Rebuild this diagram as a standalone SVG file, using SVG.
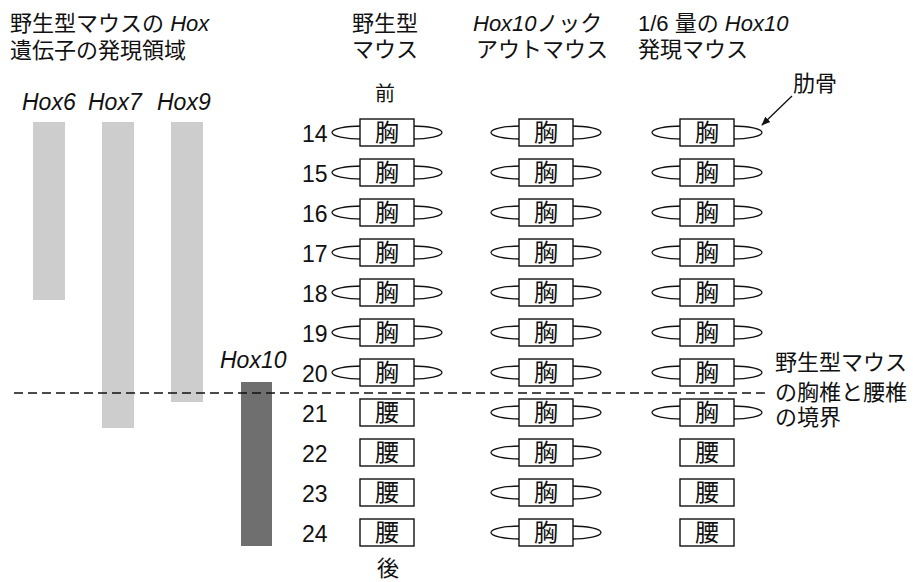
<svg xmlns="http://www.w3.org/2000/svg" width="923" height="582" viewBox="0 0 923 582">
<style>
.t{font-family:"Liberation Sans","Noto Sans CJK JP",sans-serif;font-size:22px;fill:#111}
.i{font-style:italic}
.n{font-family:"Liberation Sans",sans-serif;font-size:23px;fill:#111}
.k{font-family:"Noto Sans CJK JP",sans-serif;font-size:24px;fill:#111;text-anchor:middle}
.rib{fill:none;stroke:#111;stroke-width:1.3}
.box{fill:#fff;stroke:#111;stroke-width:1.4}
.lt{fill:#cdcdcd}
.dk{fill:#6f6f6f}
</style>
<defs>
<marker id="ah" viewBox="0 0 10 10" refX="9" refY="5" markerWidth="9" markerHeight="9" orient="auto" markerUnits="userSpaceOnUse">
<path d="M0,1 L10,5 L0,9 Z" fill="#111"/>
</marker>
<g id="th">
<ellipse class="rib" cx="2" cy="0.5" rx="30" ry="6.5"/>
<ellipse class="rib" cx="52" cy="0.5" rx="30" ry="6.5"/>
<rect class="box" x="0" y="-13" width="54" height="27"/>
<text class="k" x="27" y="9">胸</text>
</g>
<g id="lu">
<rect class="box" x="0" y="-13" width="54" height="27"/>
<text class="k" x="27" y="9">腰</text>
</g>
</defs>

<g id="title">
<text class="t" x="10" y="31">野生型マウスの <tspan class="i">Hox</tspan></text>
<text class="t" x="10" y="58">遺伝子の発現領域</text>
</g>

<g id="bars">
<rect class="lt" x="33" y="122" width="32" height="178"/>
<rect class="lt" x="102" y="122" width="32" height="306"/>
<rect class="lt" x="171" y="122" width="32" height="280"/>
<rect class="dk" x="241" y="382" width="31" height="164"/>
<text class="t i" x="22" y="110" style="font-size:23px">Hox6</text>
<text class="t i" x="88" y="110" style="font-size:23px">Hox7</text>
<text class="t i" x="157" y="110" style="font-size:23px">Hox9</text>
<text class="t i" x="220" y="368" style="font-size:23px">Hox10</text>
</g>

<g id="headers">
<text class="t" x="352" y="31">野生型</text>
<text class="t" x="352" y="57">マウス</text>
<text class="t" x="473" y="31"><tspan class="i">Hox10</tspan>ノック</text>
<text class="t" x="476" y="57">アウトマウス</text>
<text class="t" x="638" y="31">1/6 量の <tspan class="i">Hox10</tspan></text>
<text class="t" x="638" y="57">発現マウス</text>
<text class="t" x="375" y="101" style="font-size:20px">前</text>
<text class="t" x="377" y="576">後</text>
</g>

<g id="numbers">
<text class="n" x="302" y="142">14</text>
<text class="n" x="302" y="182">15</text>
<text class="n" x="302" y="222">16</text>
<text class="n" x="302" y="262">17</text>
<text class="n" x="302" y="302">18</text>
<text class="n" x="302" y="342">19</text>
<text class="n" x="302" y="382">20</text>
<text class="n" x="302" y="422">21</text>
<text class="n" x="302" y="462">22</text>
<text class="n" x="302" y="502">23</text>
<text class="n" x="302" y="542">24</text>
</g>

<g id="wild">
<use href="#th" x="360" y="132"/>
<use href="#th" x="360" y="172"/>
<use href="#th" x="360" y="212"/>
<use href="#th" x="360" y="252"/>
<use href="#th" x="360" y="292"/>
<use href="#th" x="360" y="332"/>
<use href="#th" x="360" y="372"/>
<use href="#lu" x="360" y="412"/>
<use href="#lu" x="360" y="452"/>
<use href="#lu" x="360" y="492"/>
<use href="#lu" x="360" y="532"/>
</g>

<g id="knockout">
<use href="#th" x="519" y="132"/>
<use href="#th" x="519" y="172"/>
<use href="#th" x="519" y="212"/>
<use href="#th" x="519" y="252"/>
<use href="#th" x="519" y="292"/>
<use href="#th" x="519" y="332"/>
<use href="#th" x="519" y="372"/>
<use href="#th" x="519" y="412"/>
<use href="#th" x="519" y="452"/>
<use href="#th" x="519" y="492"/>
<use href="#th" x="519" y="532"/>
</g>

<g id="sixth">
<use href="#th" x="680" y="132"/>
<use href="#th" x="680" y="172"/>
<use href="#th" x="680" y="212"/>
<use href="#th" x="680" y="252"/>
<use href="#th" x="680" y="292"/>
<use href="#th" x="680" y="332"/>
<use href="#th" x="680" y="372"/>
<use href="#th" x="680" y="412"/>
<use href="#lu" x="680" y="452"/>
<use href="#lu" x="680" y="492"/>
<use href="#lu" x="680" y="532"/>
</g>

<g id="rib-label">
<text class="t" x="793" y="91">肋骨</text>
</g>

<g id="boundary-label">
<text class="t" x="775" y="370">野生型マウス</text>
<text class="t" x="775" y="400">の胸椎と腰椎</text>
<text class="t" x="775" y="425">の境界</text>
</g>

<g id="connectors">
<line x1="14" y1="393" x2="770" y2="393" stroke="#111" stroke-width="1.4" stroke-dasharray="9,5"/>
<line x1="792" y1="96" x2="762" y2="125" stroke="#111" stroke-width="1.3" marker-end="url(#ah)"/>
</g>
</svg>
